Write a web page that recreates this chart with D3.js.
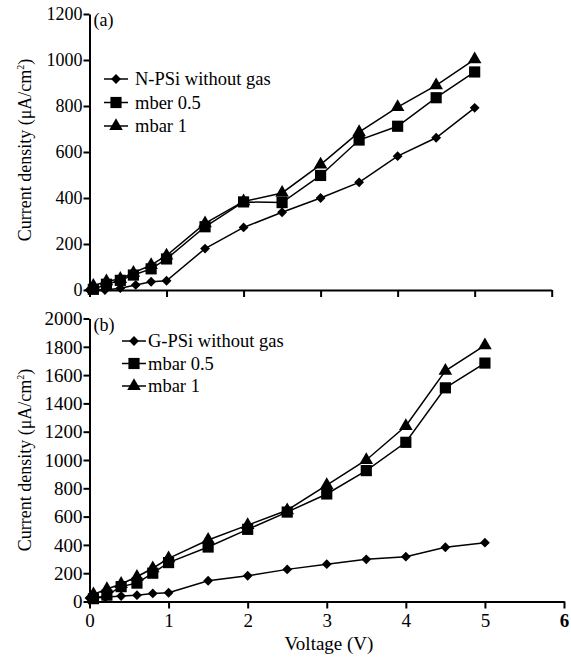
<!DOCTYPE html>
<html>
<head>
<meta charset="utf-8">
<script src="https://cdn.jsdelivr.net/npm/d3@7"></script>
<style>
  body { margin: 0; background: #fff; }
</style>
</head>
<body>
<svg id="chart" width="571" height="660"></svg>
<script>
// panel (a) data
const voltsA1 = [0, 0.2, 0.4, 0.6, 0.8, 1, 1.5, 2, 2.5, 3, 3.5, 4, 4.5, 5];
const voltsA2 = [0.05, 0.22, 0.4, 0.57, 0.8, 1, 1.5, 2, 2.5, 3, 3.5, 4, 4.5, 5];
const nPsiNoGas = [0, 0, 8, 22, 36, 40, 180, 272, 338, 400, 468, 582, 662, 792];
const nPsiHalf = [3, 25, 42, 65, 92, 135, 275, 383, 380, 498, 652, 712, 836, 948];
const nPsiOne = [18, 38, 48, 75, 108, 150, 290, 385, 422, 545, 686, 795, 890, 1003];
const legendA = ["N-PSi without gas", "mber 0.5", "mbar 1"];

// panel (b) data
const voltsB1 = [0, 0.2, 0.4, 0.6, 0.8, 1, 1.5, 2, 2.5, 3, 3.5, 4, 4.5, 5];
const voltsB2 = [0.05, 0.22, 0.4, 0.6, 0.8, 1, 1.5, 2, 2.5, 3, 3.5, 4, 4.5, 5];
const gPsiNoGas = [25, 30, 38, 45, 57, 62, 147, 182, 227, 264, 298, 317, 383, 416];
const gPsiHalf = [20, 45, 105, 130, 200, 275, 385, 510, 632, 760, 925, 1125, 1510, 1685];
const gPsiOne = [50, 88, 124, 175, 235, 305, 435, 540, 645, 822, 1000, 1240, 1630, 1810];
const legendB = ["G-PSi without gas", "mbar 0.5", "mbar 1"];

const xTicks = [0, 1, 2, 3, 4, 5, 6];
const yTicksA = [0, 200, 400, 600, 800, 1000, 1200];
const yTicksB = [0, 200, 400, 600, 800, 1000, 1200, 1400, 1600, 1800, 2000];

const serif = '"Liberation Serif", "Times New Roman", serif';
const svg = d3.select("#chart").attr("font-family", serif);

const symbols = [
  d3.symbol().type(d3.symbolDiamond2).size(62),
  d3.symbol().type(d3.symbolSquare).size(125),
  d3.symbol().type(d3.symbolTriangle).size(80)
];

function drawPanel(opt) {
  const x = d3.scaleLinear().domain([0, 6]).range(opt.xRange);
  const y = d3.scaleLinear().domain(opt.yDomain).range(opt.yRange);
  const g = svg.append("g");

  // axes
  const yAxis = g.append("g")
    .attr("transform", "translate(" + opt.xRange[0] + ",0)")
    .call(d3.axisLeft(y).tickValues(opt.yTicks).tickFormat(d3.format("d"))
      .tickSize(6).tickPadding(1).tickSizeOuter(0))
    .attr("font-family", serif).attr("font-size", opt.yFont);
  yAxis.select(".domain").attr("stroke-width", 2);
  yAxis.selectAll(".tick line").attr("stroke-width", 2);
  yAxis.selectAll(".tick text").attr("dy", "0.33em");

  const xAxis = g.append("g")
    .attr("transform", "translate(0," + opt.yRange[0] + ")")
    .call(d3.axisBottom(x).tickValues(xTicks).tickFormat(d3.format("d"))
      .tickSize(7).tickPadding(5).tickSizeOuter(0))
    .attr("font-family", serif).attr("font-size", 19);
  xAxis.select(".domain").attr("stroke-width", 2);
  xAxis.selectAll(".tick line").attr("stroke-width", 2);
  if (opt.xLabels) {
    xAxis.selectAll(".tick text")
      .style("font-weight", d => d === 6 ? "bold" : "normal");
  } else {
    xAxis.selectAll(".tick text").remove();
  }

  // y title
  const yt = g.append("text")
    .attr("transform", "translate(31," + opt.titleY + ") rotate(-90)")
    .attr("text-anchor", "middle")
    .attr("font-family", serif).attr("font-size", 18);
  yt.append("tspan").text("Current density (\u03bcA/cm");
  yt.append("tspan").attr("dy", "-7").attr("font-size", 10).text("2");
  yt.append("tspan").attr("dy", "7").text(")");

  // panel letter
  g.append("text")
    .attr("x", opt.xRange[0] + 4).attr("y", opt.yRange[1] + 12)
    .attr("font-family", serif).attr("font-size", 18).text(opt.letter);

  const line = d3.line().x(d => x(d[0])).y(d => y(d[1]));
  opt.series.forEach((s, i) => {
    const pts = s.v.map((v, k) => [v, s.c[k]]);
    g.append("path").datum(pts)
      .attr("fill", "none").attr("stroke", "#000").attr("stroke-width", 1.5)
      .attr("d", line);
    g.selectAll(null).data(pts).enter().append("path")
      .attr("transform", d => "translate(" + x(d[0]) + "," + y(d[1]) + ")")
      .attr("d", symbols[i]).attr("fill", "#000");
  });

  // legend
  opt.legend.forEach((name, i) => {
    const ly = opt.legendY + i * opt.legendStep;
    const lg = g.append("g").attr("transform", "translate(" + opt.legendX + "," + ly + ")");
    lg.append("line").attr("x1", 0).attr("x2", 24).attr("y1", 0).attr("y2", 0)
      .attr("stroke", "#000").attr("stroke-width", 1.5);
    lg.append("path").attr("transform", "translate(12,0)").attr("d", symbols[i]).attr("fill", "#000");
    lg.append("text").attr("x", opt.legendGap).attr("y", 0).attr("dy", "0.33em")
      .attr("font-family", serif).attr("font-size", 18.5).text(name);
  });

  if (opt.xTitle) {
    g.append("text")
      .attr("x", 329).attr("y", 650)
      .attr("text-anchor", "middle")
      .attr("font-family", serif).attr("font-size", 19).text(opt.xTitle);
  }
}

drawPanel({
  xRange: [89.5, 551.7], yDomain: [0, 1200], yRange: [290, 14],
  yTicks: yTicksA, yFont: 18, titleY: 150, letter: "(a)",
  xLabels: false,
  series: [
    { v: voltsA1, c: nPsiNoGas },
    { v: voltsA2, c: nPsiHalf },
    { v: voltsA2, c: nPsiOne }
  ],
  legend: legendA, legendX: 104, legendGap: 31, legendY: 79, legendStep: 23.5
});

drawPanel({
  xRange: [89.5, 564], yDomain: [0, 2000], yRange: [601.5, 318.5],
  yTicks: yTicksB, yFont: 19, titleY: 460, letter: "(b)",
  xLabels: true, xTitle: "Voltage (V)",
  series: [
    { v: voltsB1, c: gPsiNoGas },
    { v: voltsB2, c: gPsiHalf },
    { v: voltsB2, c: gPsiOne }
  ],
  legend: legendB, legendX: 122, legendGap: 26, legendY: 341, legendStep: 22.5
});
</script>
</body>
</html>
